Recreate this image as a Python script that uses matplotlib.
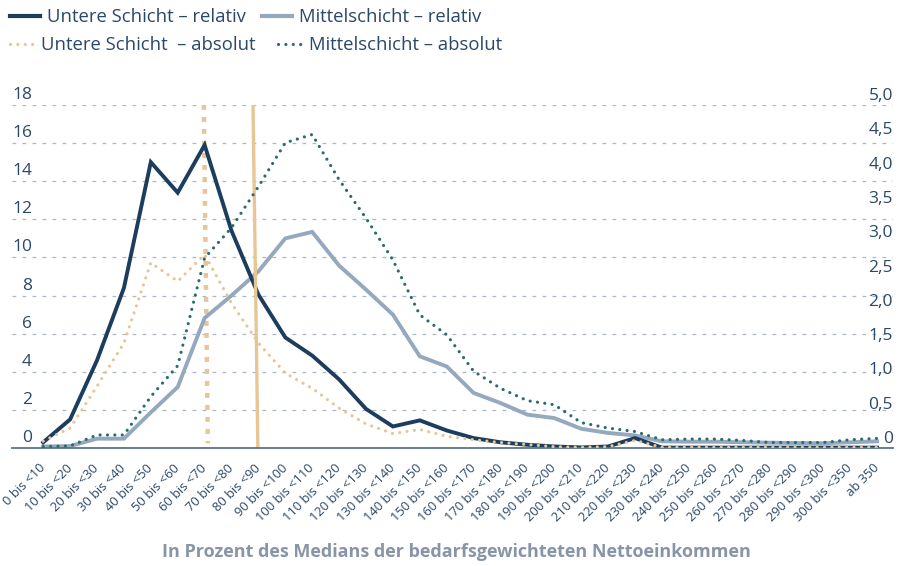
import matplotlib
matplotlib.use("Agg")
import matplotlib.pyplot as plt
import matplotlib.transforms as mtransforms
from matplotlib.lines import Line2D

plt.rcParams['font.family'] = ['Open Sans', 'DejaVu Sans']

categories = ["0 bis <10", "10 bis <20", "20 bis <30", "30 bis <40", "40 bis <50",
              "50 bis <60", "60 bis <70", "70 bis <80", "80 bis <90", "90 bis <100",
              "100 bis <110", "110 bis <120", "120 bis <130", "130 bis <140",
              "140 bis <150", "150 bis <160", "160 bis <170", "170 bis <180",
              "180 bis <190", "190 bis <200", "200 bis <210", "210 bis <220",
              "220 bis <230", "230 bis <240", "240 bis <250", "250 bis <260",
              "260 bis <270", "270 bis <280", "280 bis <290", "290 bis <300",
              "300 bis <350", "ab 350"]

untere_rel = [0.3, 1.5, 4.6, 8.4, 15.0, 13.4, 15.9, 11.4, 8.05, 5.8, 4.85, 3.6, 2.05,
              1.13, 1.45, 0.92, 0.52, 0.3, 0.17, 0.08, 0.03, 0.08, 0.52, 0.02, 0.02,
              0.02, 0.02, 0.02, 0.02, 0.02, 0.02, 0.02]
mittel_rel = [0.08, 0.1, 0.49, 0.49, 1.87, 3.2, 6.82, 8.0, 9.27, 11.0, 11.34, 9.57,
              8.31, 7.0, 4.81, 4.28, 2.89, 2.36, 1.75, 1.57, 1.01, 0.79, 0.66, 0.35,
              0.33, 0.33, 0.3, 0.28, 0.26, 0.25, 0.3, 0.35]
untere_abs = [0.1, 0.29, 0.9, 1.53, 2.7, 2.43, 2.82, 2.11, 1.53, 1.09, 0.87, 0.58,
              0.35, 0.21, 0.27, 0.17, 0.12, 0.08, 0.05, 0.02, 0.01, 0.02, 0.11, 0.01,
              0.01, 0.01, 0.01, 0.01, 0.01, 0.01, 0.01, 0.01]
mittel_abs = [0.02, 0.03, 0.19, 0.19, 0.75, 1.2, 2.77, 3.21, 3.81, 4.45, 4.57, 3.91,
              3.35, 2.74, 1.94, 1.65, 1.12, 0.87, 0.69, 0.63, 0.37, 0.29, 0.24, 0.12,
              0.13, 0.13, 0.11, 0.08, 0.08, 0.08, 0.12, 0.14]

# reference lines (category position at top / bottom, value at top / bottom, left axis)
ref_dotted_x = [5.97, 6.12]
ref_dotted_y = [18.0, 0.25]
ref_solid_x = [7.8, 7.98]
ref_solid_y = [17.9, 0.0]

left_ticks = [0, 2, 4, 6, 8, 10, 12, 14, 16, 18]
right_ticks = [0, 0.5, 1.0, 1.5, 2.0, 2.5, 3.0, 3.5, 4.0, 4.5, 5.0]
right_tick_labels = ["0", "0,5", "1,0", "1,5", "2,0", "2,5", "3,0", "3,5", "4,0", "4,5", "5,0"]

legend_row1 = ["Untere Schicht – relativ", "Mittelschicht – relativ"]
legend_row2 = ["Untere Schicht  – absolut", "Mittelschicht – absolut"]
xlabel = "In Prozent des Medians der bedarfsgewichteten Nettoeinkommen"

NAVY = "#1c3d5e"
GREY = "#94a8be"
TEAL = "#2a6c6e"
TAN = "#e7c594"
TEXT = "#2a4868"
GRID = "#a9b7c7"

W, H = 901, 566
fig = plt.figure(figsize=(W / 100, H / 100), dpi=100)
ax = fig.add_axes([12 / W, 118 / H, (893 - 12) / W, (448 - 105) / H])
ax2 = ax.twinx()

x = list(range(len(categories)))
ax.set_xlim(-1.16, len(categories) - 1 + 0.59)
ax.set_ylim(0, 18)
ax2.set_ylim(0, 5)

# grid
for v in left_ticks[1:]:
    ax.axhline(v, color=GRID, lw=0.9, ls=(0, (3, 5)), zorder=0)

# reference lines
ax.plot(ref_dotted_x, ref_dotted_y, color=TAN, lw=3.2, ls=(0, (1.1, 1.6)), zorder=1)

# lines
lw_solid = 2.8
ax2.plot(x, mittel_abs, color=TEAL, lw=2.3, ls=(0, (0.01, 2.3)),
         dash_capstyle='round', zorder=2)
ax2.plot(x, untere_abs, color=TAN, lw=2.3, ls=(0, (0.01, 2.3)),
         dash_capstyle='round', zorder=2)
ax.plot(x, mittel_rel, color=GREY, lw=lw_solid, zorder=3, solid_joinstyle='miter')
ax.plot(x, untere_rel, color=NAVY, lw=lw_solid, zorder=4, solid_joinstyle='miter')
ax.plot(ref_solid_x, ref_solid_y, color=TAN, lw=2.4, zorder=5)
ax2.set_zorder(ax.get_zorder() + 1)
ax2.patch.set_visible(False)

for a in (ax, ax2):
    for s in ("top", "left", "right", "bottom"):
        a.spines[s].set_visible(False)
ax.spines["bottom"].set_visible(True)
ax.spines["bottom"].set_color("#56748f")
ax.spines["bottom"].set_linewidth(1.3)
ax.spines["bottom"].set_zorder(6)

ax.set_yticks(left_ticks)
ax.tick_params(axis='y', length=0, labelleft=False)
ax2.set_yticks(right_ticks)
ax2.tick_params(axis='y', length=0, labelright=False)

# y tick labels placed above the values
blend_l = mtransforms.blended_transform_factory(ax.transAxes, ax.transData)
off_l = mtransforms.offset_copy(blend_l, fig=fig, x=20, y=10, units='dots')
for v in left_ticks:
    ax.text(0, v, str(v), transform=off_l, ha='right', va='center',
            fontsize=12.5, color=TEXT)
blend_r = mtransforms.blended_transform_factory(ax2.transAxes, ax2.transData)
off_r = mtransforms.offset_copy(blend_r, fig=fig, x=0, y=9, units='dots')
for v, lab in zip(right_ticks, right_tick_labels):
    ax2.text(1, v, lab, transform=off_r, ha='right', va='center',
             fontsize=12.5, color=TEXT)

# x ticks
ax.set_xticks(x)
ax.set_xticklabels(categories, rotation=45, ha='right', va='center',
                   rotation_mode='anchor', fontsize=9.3, color=TEXT)
ax.tick_params(axis='x', length=0, pad=13)

fig.text(456 / W, 1 - 552 / H, xlabel, ha='center', va='center', fontsize=13,
         fontweight='bold', color="#8795a7")

# legends
h1 = [Line2D([], [], color=NAVY, lw=3), Line2D([], [], color=GREY, lw=3)]
h2 = [Line2D([], [], color=TAN, lw=2.3, ls=(0, (0.01, 2.3)), dash_capstyle='round'),
      Line2D([], [], color=TEAL, lw=2.3, ls=(0, (0.01, 2.3)), dash_capstyle='round')]
leg1 = fig.legend(h1, legend_row1, loc='upper left', bbox_to_anchor=(10 / W, 1 - 8 / H),
                  ncol=2, frameon=False, borderpad=0, borderaxespad=0,
                  handlelength=1.62, handletextpad=0.36, columnspacing=0.9,
                  fontsize=13.3, labelcolor=TEXT)
leg2 = fig.legend(h2, legend_row2, loc='upper left', bbox_to_anchor=(10 / W, 1 - 36 / H),
                  ncol=2, frameon=False, borderpad=0, borderaxespad=0,
                  handlelength=1.5, handletextpad=0.2, columnspacing=1.2,
                  fontsize=13.3, labelcolor=TEXT)

fig.savefig("out.png", dpi=100)
